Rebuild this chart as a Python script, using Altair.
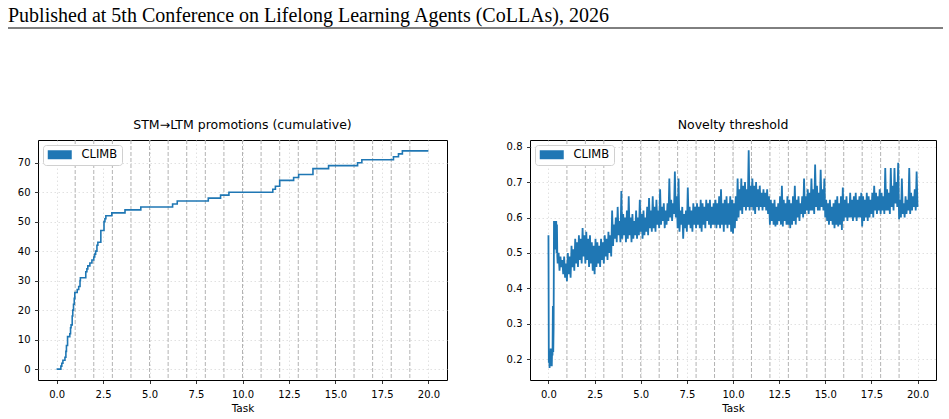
import altair as alt
import numpy as np
import pandas as pd

HEADER = "Published at 5th Conference on Lifelong Learning Agents (CoLLAs), 2026"
SERIES = "CLIMB"
BLUE = "#1f77b4"

# STM->LTM promotions: task position of each step and the running total after it
promo_task = [0.00, 0.23, 0.28, 0.34, 0.45, 0.50, 0.53, 0.59, 0.71, 0.75,
              0.78, 0.84, 0.87, 0.91, 0.95, 0.98, 1.11, 1.19, 1.26, 1.28,
              1.57, 1.63, 1.68, 1.79, 1.90, 2.00, 2.05, 2.10, 2.17, 2.22,
              2.38, 2.55, 2.60, 2.65, 2.97, 3.68, 4.53, 6.24, 6.49, 8.16,
              8.82, 9.27, 11.63, 11.77, 12.00, 12.75, 13.02, 13.79, 14.63, 16.19,
              16.42, 18.12, 18.39, 18.60, 20.00]
promo_count = [0, 1, 2, 3, 4, 6, 8, 11, 12, 14,
               15, 18, 20, 22, 24, 26, 27, 28, 30, 31,
               33, 34, 35, 36, 37, 38, 39, 40, 42, 43,
               47, 50, 51, 52, 53, 54, 55, 56, 57, 58,
               59, 60, 61, 62, 64, 65, 66, 68, 69, 70,
               71, 72, 73, 74, 74]

# novelty threshold: warm-up trace over the first half task
thr_head_task = [0.00, 0.02, 0.04, 0.06, 0.08, 0.10, 0.12, 0.14, 0.16, 0.18,
                 0.20, 0.22, 0.24, 0.26, 0.28, 0.30, 0.32, 0.34, 0.36, 0.38,
                 0.40, 0.42, 0.44, 0.46, 0.48]
thr_head_value = [0.55, 0.19, 0.21, 0.175, 0.22, 0.18, 0.23, 0.19, 0.22, 0.18,
                  0.23, 0.21, 0.35, 0.22, 0.29, 0.59, 0.54, 0.59, 0.51, 0.59,
                  0.55, 0.59, 0.50, 0.58, 0.49]
# then troughs at tasks 0.50, 0.60, ... 19.90 (one row per task) ...
thr_low = [0.47, 0.45, 0.46, 0.44, 0.43,
           0.42, 0.44, 0.43, 0.46, 0.45, 0.47, 0.46, 0.48, 0.47, 0.49,
           0.47, 0.48, 0.46, 0.47, 0.45, 0.44, 0.46, 0.47, 0.46, 0.48,
           0.47, 0.49, 0.48, 0.50, 0.49, 0.52, 0.54, 0.53, 0.55, 0.53,
           0.54, 0.55, 0.53, 0.54, 0.55, 0.53, 0.54, 0.55, 0.54, 0.55,
           0.56, 0.54, 0.55, 0.56, 0.55, 0.57, 0.56, 0.57, 0.56, 0.58,
           0.57, 0.58, 0.59, 0.57, 0.58, 0.59, 0.60, 0.59, 0.61, 0.60,
           0.57, 0.56, 0.58, 0.54, 0.57, 0.56, 0.58, 0.57, 0.56, 0.58,
           0.57, 0.58, 0.57, 0.56, 0.58, 0.57, 0.59, 0.58, 0.57, 0.58,
           0.58, 0.57, 0.58, 0.57, 0.58, 0.56, 0.58, 0.57, 0.58, 0.56,
           0.555, 0.57, 0.59, 0.60, 0.62, 0.61, 0.63, 0.62, 0.63, 0.62,
           0.63, 0.62, 0.61, 0.63, 0.62, 0.63, 0.62, 0.63, 0.62, 0.61,
           0.58, 0.59, 0.58, 0.575, 0.58, 0.59, 0.58, 0.575, 0.59, 0.58,
           0.58, 0.57, 0.58, 0.59, 0.58, 0.60, 0.59, 0.61, 0.60, 0.61,
           0.62, 0.61, 0.62, 0.62, 0.61, 0.63, 0.62, 0.62, 0.63, 0.62,
           0.60, 0.59, 0.58, 0.59, 0.58, 0.57, 0.58, 0.575, 0.58, 0.565,
           0.59, 0.60, 0.59, 0.60, 0.60, 0.59, 0.60, 0.59, 0.60, 0.60,
           0.575, 0.59, 0.60, 0.59, 0.60, 0.61, 0.60, 0.62, 0.61, 0.62,
           0.61, 0.62, 0.61, 0.62, 0.62, 0.61, 0.63, 0.62, 0.64, 0.63,
           0.595, 0.60, 0.61, 0.60, 0.61, 0.62, 0.61, 0.62, 0.63, 0.62]
# ... and peaks half a step later, at tasks 0.55, 0.65, ... 19.95
thr_high = [0.50, 0.49, 0.48, 0.49, 0.47,
            0.50, 0.49, 0.52, 0.51, 0.54, 0.53, 0.55, 0.54, 0.57, 0.55,
            0.56, 0.54, 0.55, 0.53, 0.52, 0.54, 0.53, 0.52, 0.54, 0.53,
            0.55, 0.54, 0.56, 0.55, 0.62, 0.58, 0.60, 0.63, 0.59, 0.675,
            0.61, 0.60, 0.62, 0.66, 0.60, 0.61, 0.59, 0.62, 0.60, 0.65,
            0.61, 0.62, 0.60, 0.63, 0.655, 0.62, 0.66, 0.63, 0.65, 0.62,
            0.68, 0.63, 0.64, 0.62, 0.64, 0.71, 0.65, 0.64, 0.73, 0.66,
            0.71, 0.62, 0.63, 0.61, 0.62, 0.685, 0.63, 0.62, 0.64, 0.63,
            0.64, 0.63, 0.65, 0.64, 0.63, 0.65, 0.64, 0.65, 0.63, 0.64,
            0.65, 0.64, 0.66, 0.68, 0.64, 0.65, 0.66, 0.64, 0.66, 0.65,
            0.64, 0.66, 0.71, 0.68, 0.71, 0.69, 0.70, 0.68, 0.79, 0.69,
            0.71, 0.69, 0.70, 0.68, 0.69, 0.67, 0.68, 0.67, 0.68, 0.66,
            0.65, 0.64, 0.65, 0.63, 0.64, 0.66, 0.69, 0.65, 0.64, 0.66,
            0.65, 0.64, 0.66, 0.69, 0.65, 0.66, 0.64, 0.66, 0.71, 0.66,
            0.68, 0.67, 0.71, 0.68, 0.75, 0.69, 0.67, 0.735, 0.68, 0.71,
            0.65, 0.64, 0.65, 0.63, 0.64, 0.65, 0.66, 0.64, 0.66, 0.685,
            0.65, 0.66, 0.64, 0.67, 0.65, 0.66, 0.67, 0.65, 0.66, 0.67,
            0.66, 0.65, 0.67, 0.66, 0.65, 0.67, 0.69, 0.67, 0.66, 0.68,
            0.67, 0.66, 0.74, 0.68, 0.67, 0.74, 0.69, 0.74, 0.70, 0.755,
            0.65, 0.71, 0.64, 0.66, 0.65, 0.74, 0.67, 0.66, 0.68, 0.73]
thr_tail_task = [20.0]
thr_tail_value = [0.63]

task_boundaries = list(range(1, 20))
x_ticks = [0, 2.5, 5, 7.5, 10, 12.5, 15, 17.5, 20]
promo_ticks = [0, 10, 20, 30, 40, 50, 60, 70]
thr_ticks = [0.2, 0.3, 0.4, 0.5, 0.6, 0.7, 0.8]

# ---- tables ----
promo_df = pd.DataFrame({"task": promo_task, "value": promo_count, "method": SERIES})

low_task = np.round(0.5 + 0.1 * np.arange(len(thr_low)), 2)
high_task = np.round(low_task + 0.05, 3)
body_task = np.ravel(np.column_stack([low_task, high_task]))
body_value = np.ravel(np.column_stack([thr_low, thr_high]))
thr_df = pd.DataFrame({
    "task": list(thr_head_task) + list(body_task) + thr_tail_task,
    "value": list(thr_head_value) + list(body_value) + thr_tail_value,
    "method": SERIES,
})
bound_df = pd.DataFrame({"task": task_boundaries})

x_scale = alt.Scale(domain=[-1, 21], nice=False, zero=False)
RECT = "M-2.4,-0.9H2.4V0.9H-2.4Z"


def x_enc():
    return alt.X("task:Q", scale=x_scale,
                 axis=alt.Axis(values=x_ticks, format=".1f", title="Task",
                               labelPadding=6, titlePadding=4))


def legend():
    return alt.Legend(title=None, orient="top-left", offset=5, padding=4,
                      cornerRadius=3, strokeColor="#d0d0d0", fillColor="white",
                      symbolType=RECT, symbolSize=100, symbolOffset=7,
                      symbolFillColor=BLUE, symbolStrokeWidth=0,
                      labelFont="DejaVu Sans", labelFontSize=11.5,
                      labelColor="black", labelOffset=16)


def color_enc():
    return alt.Color("method:N", scale=alt.Scale(domain=[SERIES], range=[BLUE]),
                     legend=legend())


def boundaries():
    return alt.Chart(bound_df).mark_rule(
        color="#b3b3b3", strokeWidth=1, strokeDash=[4, 2]
    ).encode(x=x_enc())


def panel(df, title, domain, ticks, fmt, extent, width, step, stroke_w):
    line = alt.Chart(df).mark_line(
        strokeWidth=stroke_w, interpolate="step-after" if step else "linear"
    ).encode(
        x=x_enc(),
        y=alt.Y("value:Q", scale=alt.Scale(domain=domain, nice=False, zero=False),
                axis=alt.Axis(values=ticks, format=fmt, title=None,
                              labelPadding=4.5, minExtent=extent)),
        color=color_enc(),
    )
    return alt.layer(boundaries(), line).properties(
        width=width, height=240,
        title=alt.TitleParams(title),
        view=alt.ViewBackground(stroke="black", strokeWidth=1),
    )


left = panel(promo_df, "STM→LTM promotions (cumulative)", [-3.7, 77.7],
             promo_ticks, "d", 30, 409, True, 1.6)
right = panel(thr_df, "Novelty threshold", [0.141, 0.819],
              thr_ticks, ".1f", 27, 406, False, 1.8)

# page header, positioned relative to the left panel's plot area
head_src = pd.DataFrame({"k": [0]})
head_text = alt.Chart(head_src).mark_text(
    text=HEADER, font="Liberation Serif", fontSize=20, align="left",
    baseline="alphabetic", color="black"
).encode(x=alt.value(-30), y=alt.value(21))
head_rule = alt.Chart(head_src).mark_rule(color="black", strokeWidth=1).encode(
    x=alt.value(-30), x2=alt.value(905), y=alt.value(27)
)
header = alt.layer(head_text, head_rule).properties(
    width=409, height=28, view=alt.ViewBackground(stroke="transparent")
)

panels = alt.hconcat(left, right, spacing=54).resolve_scale(
    color="independent", y="independent"
).resolve_legend(color="independent")

chart = alt.vconcat(header, panels, spacing=88).properties(
    padding={"left": 7, "top": 0, "right": 0, "bottom": 0}
).configure(font="DejaVu Sans").configure_axis(
    domain=False, tickColor="black", tickSize=3.5, tickWidth=0.8,
    labelFont="DejaVu Sans", labelFontSize=10, labelColor="black",
    titleFont="DejaVu Sans", titleFontSize=10.5, titleFontWeight="normal",
    titleColor="black", grid=True, gridColor="#d9d9d9", gridDash=[1.5, 2.5],
    gridWidth=0.8,
).configure_title(
    font="DejaVu Sans", fontSize=12.5, fontWeight="normal", color="black",
    offset=8, baseline="alphabetic", anchor="middle"
)

chart.save("out.html", embed_options={"renderer": "svg", "actions": False})
